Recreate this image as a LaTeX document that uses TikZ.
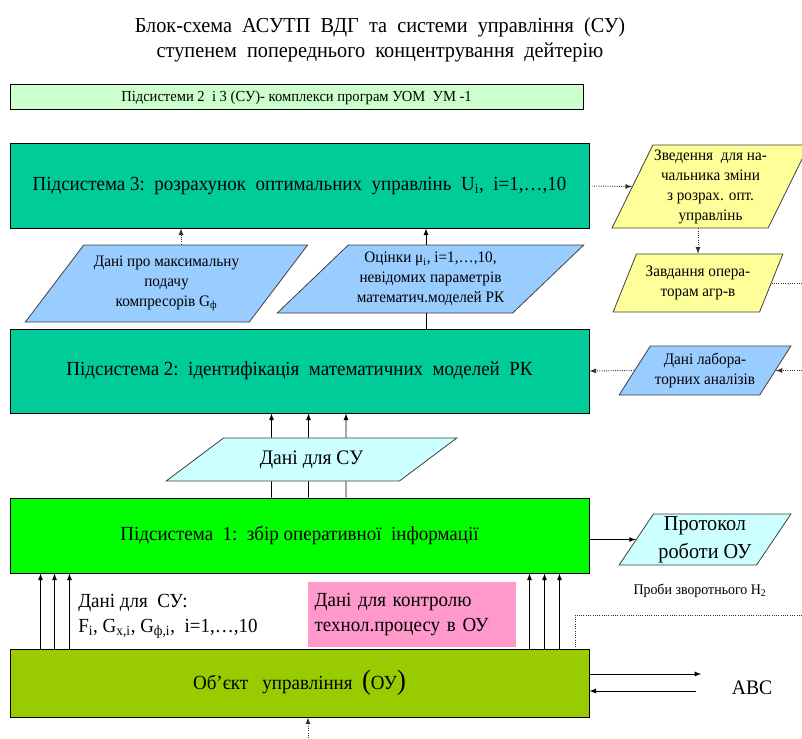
\documentclass[tikz,border=0pt]{standalone}
\usepackage{fontspec}
\setmainfont[FakeStretch=0.95]{Liberation Serif}
\usetikzlibrary{shapes.geometric, arrows, positioning, calc}
\definecolor{paleGreen}{RGB}{204,255,204}
\definecolor{subTeal}{RGB}{0,204,153}
\definecolor{subLime}{RGB}{0,255,0}
\definecolor{objOlive}{RGB}{153,204,0}
\definecolor{dataBlue}{RGB}{153,204,255}
\definecolor{noteYellow}{RGB}{255,255,153}
\definecolor{paleCyan}{RGB}{204,255,255}
\definecolor{ctrlPink}{RGB}{255,153,204}
\tikzstyle{subsys} = [rectangle, draw=black, line width=0.75pt, inner sep=0pt, minimum width=434.25pt, font=\fontsize{15}{18}\selectfont]
\tikzstyle{para} = [trapezium, trapezium stretches=true, draw=black!75, line width=0.6pt, inner sep=1pt, align=center, font=\fontsize{12}{15}\selectfont]
\tikzstyle{arrow} = [->,>=latex, line width=0.7pt]
\tikzstyle{dotarrow} = [->,>=latex, densely dotted, line width=0.7pt, black!80]
\tikzstyle{dotline} = [densely dotted, line width=0.7pt, black!80]

\begin{document}
\begin{tikzpicture}[x=0.75pt,y=-0.75pt]
\useasboundingbox (0,0) rectangle (802,738);

% Title
\node[align=center, font=\fontsize{16}{18.75}\selectfont] (title) at (380,39.5)
  {Блок-схема\ \ АСУТП\ \ ВДГ\ \ та\ \ системи\ \ управління\ \ (СУ)\\
   ступенем\ \ попереднього\ \ концентрування\ \ дейтерію};

% Software label
\node[draw, fill=paleGreen, line width=0.75pt, minimum width=429.75pt, minimum height=18.75pt, inner sep=0pt,
  font=\fontsize{11.5}{13}\selectfont] (progs) at (296.5,97.5)
  {Підсистеми 2\ \ і 3 (СУ)- комплекси програм УОМ\ \ УМ -1};

% Subsystems and control object
\node[subsys, fill=subTeal, minimum height=63pt] (sub3) at (299.5,186)
  {Підсистема 3:\ \ розрахунок\ \ оптимальних\ \ управлінь\ \ U\textsubscript{i},\ \ i=1,…,10};
\node[subsys, fill=subTeal, minimum height=63pt] (sub2) at (299.5,371)
  {Підсистема 2:\ \ ідентифікація\ \ математичних\ \ моделей\ \ РК};
\node[subsys, fill=subLime, minimum height=56.25pt] (sub1) at (299.5,535.5)
  {Підсистема\ \ 1:\ \ збір оперативної\ \ інформації};
\node[subsys, fill=objOlive, minimum height=51pt] (ou) at (299.5,683)
  {Об’єкт\ \ \ управління\ \ {\fontsize{21}{21}\selectfont(}ОУ{\fontsize{21}{21}\selectfont)}};

% Data blocks
\node[para, fill=dataBlue, trapezium left angle=48, trapezium right angle=132,
  minimum width=212pt, minimum height=57.75pt] (maxfeed) at (166.5,283.5)
  {Дані про максимальну\\подачу\\компресорів G\textsubscript{ф}};
\node[para, fill=dataBlue, trapezium left angle=41, trapezium right angle=139,
  minimum width=230pt, minimum height=51pt] (params) at (430.5,279)
  {Оцінки μ\textsubscript{i}, i=1,…,10,\\невідомих параметрів\\математич.моделей РК};
\node[para, fill=noteYellow, trapezium left angle=62, trapezium right angle=118,
  minimum width=137pt, minimum height=62.25pt] (summary) at (710.5,186.5)
  {Зведення\ \ для на-\\чальника зміни\\з розрах. опт.\\управлінь};
\node[para, fill=noteYellow, trapezium left angle=61, trapezium right angle=119,
  minimum width=127.5pt, minimum height=43.5pt] (tasks) at (698,283)
  {Завдання опера-\\торам агр-в};
\node[para, fill=dataBlue, trapezium left angle=52, trapezium right angle=128,
  minimum width=129pt, minimum height=36.75pt] (lab) at (705,370.5)
  {Дані лабора-\\торних аналізів};
\node[para, fill=paleCyan, trapezium left angle=31, trapezium right angle=149,
  minimum width=218.25pt, minimum height=32.25pt, font=\fontsize{15.5}{18}\selectfont] (dsu) at (311.5,459.5)
  {Дані для СУ};
\node[para, fill=paleCyan, trapezium left angle=57, trapezium right angle=123,
  minimum width=129pt, minimum height=38.25pt, font=\fontsize{16}{21}\selectfont] (protocol) at (705,539.5)
  {Протокол\\роботи ОУ};

% Labels
\node[font=\fontsize{11}{12}\selectfont] (probes) at (700,591) {Проби зворотнього H\textsubscript{2}};
\node[font=\fontsize{15.5}{18}\selectfont] (abc) at (752,688) {ABC};
\node[anchor=north west, align=left, inner sep=0pt, font=\fontsize{15}{18.75}\selectfont] (cudata) at (78,594)
  {Дані для\ \ СУ:\\F\textsubscript{i}, G\textsubscript{x,i}, G\textsubscript{ф,i},\ \ i=1,…,10};
\node[fill=ctrlPink, minimum width=156pt, minimum height=48.75pt, text width=146pt, inner xsep=5pt,
  align=left, font=\fontsize{15}{18.75}\selectfont] (ctrl) at (412,614.5)
  {Дані для контролю\\технол.процесу в ОУ};

% Free ends
\coordinate (feedx) at (181,0);
\coordinate (estx) at (426,0);
\coordinate (tasksout) at (802,283);
\coordinate (labin) at (802,370.5);
\coordinate (probein) at (802,615);
\coordinate (probex) at (575,0);
\coordinate (bottomin) at (308,738);

% Connectors to subsystem 3
\draw[dotarrow] (feedx |- maxfeed.north) -- (feedx |- sub3.south);
\draw[line width=0.7pt] (estx |- sub2.north) -- (estx |- params.south);
\draw[arrow] (estx |- params.north) -- (estx |- sub3.south);
\draw[dotarrow] (sub3.east) -- (summary.left side);
\draw[dotarrow] (tasks.north |- summary.south) -- (tasks.north);
\draw[dotline] (tasks.right side) -- (tasksout);

% Lab analyses
\draw[dotarrow] (labin) -- (lab.right side);
\draw[dotarrow] (lab.left side) -- (sub2.east);

% Data for CU
\foreach \dx in {-40,-3,34.5} {
  \draw[arrow] ($(dsu.north)+(\dx,0)$) -- ($(sub2.south)+(\dx+12,0)$);
  \draw[line width=0.7pt] ($(sub1.north)+(\dx+12,0)$) -- ($(dsu.south)+(\dx,0)$);
}

% Object to subsystem 1
\foreach \dx in {31,45,60,520,535,550}
  \draw[arrow] ($(ou.north west)+(\dx,0)$) -- ($(sub1.south west)+(\dx,0)$);

\draw[arrow] (sub1.east |- protocol.left side) -- (protocol.left side);
\draw[dotline] (probein) -| (probex |- ou.north);
\draw[arrow] ($(ou.east)+(0,-9)$) -- ($(abc.west |- ou.east)+(-26,-9)$);
\draw[arrow] ($(abc.west |- ou.east)+(-31,8)$) -- ($(ou.east)+(0,8)$);
\draw[dotarrow] (bottomin) -- (bottomin |- ou.south);
\end{tikzpicture}
\end{document}
